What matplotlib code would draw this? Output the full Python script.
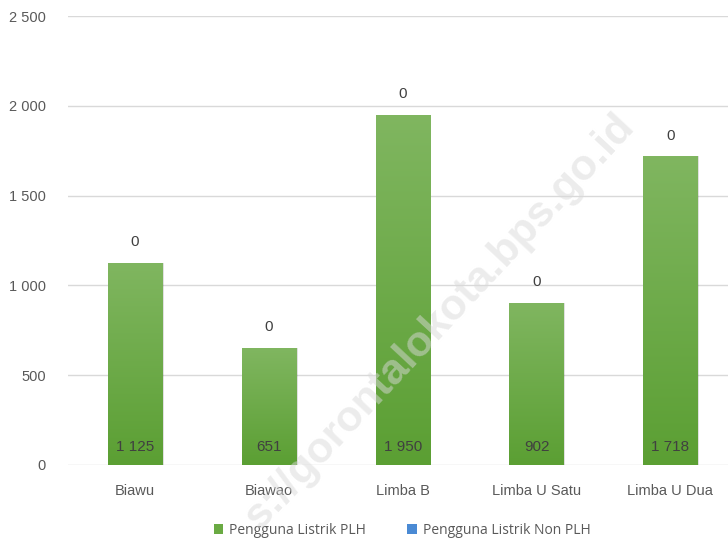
import numpy as np
import matplotlib
matplotlib.use('Agg')
import matplotlib.pyplot as plt
from matplotlib.colors import LinearSegmentedColormap

desa = ['Biawu', 'Biawao', 'Limba B', 'Limba U Satu', 'Limba U Dua']
plh = [1125, 651, 1950, 902, 1718]
non_plh = [0, 0, 0, 0, 0]
yticks = [0, 500, 1000, 1500, 2000, 2500]
ytick_labels = ['0', '500', '1 000', '1 500', '2 000', '2 500']

plt.rcParams['font.family'] = ['Liberation Sans', 'DejaVu Sans']

fig = plt.figure(figsize=(7.28, 5.44), dpi=100)
ax = fig.add_axes([68 / 728, 1 - 465 / 544, 1 - 68 / 728, (465 - 16) / 544])

x = np.arange(len(desa))
w = 0.405
bars = ax.bar(x, plh, w, color='#6aaa43', zorder=2, label='Pengguna Listrik PLH')
ax.bar(x, non_plh, w, bottom=plh, color='#4a8ad4', zorder=2, label='Pengguna Listrik Non PLH')

# gradient fill for green bars
cmap = LinearSegmentedColormap.from_list('g', ['#5b9f33', '#80b660'])
grad = np.linspace(0, 1, 256).reshape(-1, 1)
for b in bars:
    bx, by = b.get_x(), b.get_y()
    bw, bh = b.get_width(), b.get_height()
    # soft shadow
    ax.bar(bx + bw / 2 + 0.012, bh, bw, bottom=by, color='#000000', alpha=0.12, zorder=1.5)
    im = ax.imshow(grad, extent=[bx, bx + bw, by, by + bh], origin='lower',
                   cmap=cmap, aspect='auto', zorder=2.1)
    im.set_clip_path(b)

for xi, v, n in zip(x, plh, non_plh):
    ax.text(xi, 100, f'{v:,}'.replace(',', ' '), ha='center', va='center',
            fontsize=11, color='#404040', zorder=3)
    ax.text(xi, v + n + 115, str(n), ha='center', va='center',
            fontsize=11, color='#404040', zorder=3)

ax.set_xlim(-0.5, 4.43)
ax.set_ylim(0, 2500)
ax.set_yticks(yticks)
ax.set_yticklabels(ytick_labels)
ax.set_xticks(x)
ax.set_xticklabels(desa)
ax.tick_params(length=0, labelsize=10.5, labelcolor='#595959')
ax.tick_params(axis='y', pad=16)
ax.tick_params(axis='x', pad=14)
ax.yaxis.grid(True, color='#d9d9d9', lw=1)
ax.set_axisbelow(True)
for s in ax.spines.values():
    s.set_visible(False)

leg = fig.legend(loc='center', bbox_to_anchor=(402 / 728, 1 - 530 / 544), ncol=2, frameon=False,
                 prop={'family': 'Open Sans', 'size': 10}, handlelength=0.7, handleheight=0.7,
                 columnspacing=3.0, handletextpad=0.4)
for t in leg.get_texts():
    t.set_color('#595959')

fig.text(440 / 728, 1 - 322 / 544, 's://gorontalokota.bps.go.id', rotation=47,
         ha='center', va='center', fontsize=31, fontweight='bold', color='#d9d9d9',
         alpha=0.5, zorder=10)

fig.savefig('out.png', dpi=100)
